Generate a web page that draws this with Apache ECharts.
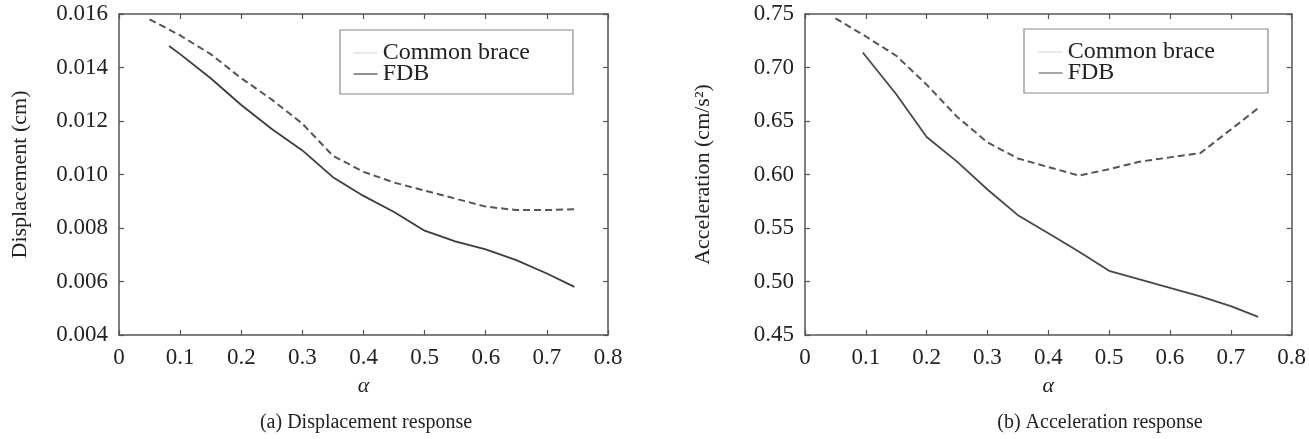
<!DOCTYPE html>
<html>
<head>
<meta charset="utf-8">
<script src="https://cdn.jsdelivr.net/npm/echarts@6/dist/echarts.min.js"></script>
<style>
  html, body { margin: 0; padding: 0; background: #fff; }
  #chart { width: 1309px; height: 439px; }
</style>
</head>
<body>
<div id="chart"></div>
<script>
// Damping-ratio values (alpha) and the responses of the two brace systems
const seriesNames = ['Common brace', 'FDB'];

const alphaCommon = [0.05, 0.1, 0.15, 0.2, 0.25, 0.3, 0.35, 0.4, 0.45, 0.5, 0.55, 0.6, 0.65, 0.7, 0.745];
const dispCommon = [0.0158, 0.0152, 0.0145, 0.0136, 0.0128, 0.0119, 0.0107, 0.0101, 0.0097, 0.0094, 0.0091, 0.0088, 0.00867, 0.00867, 0.0087];
const alphaFdbDisp = [0.082, 0.1, 0.15, 0.2, 0.25, 0.3, 0.35, 0.4, 0.45, 0.5, 0.55, 0.6, 0.65, 0.7, 0.745];
const dispFdb = [0.0148, 0.0145, 0.0136, 0.0126, 0.0117, 0.0109, 0.0099, 0.0092, 0.0086, 0.0079, 0.0075, 0.0072, 0.0068, 0.0063, 0.0058];

const accCommon = [0.746, 0.729, 0.711, 0.684, 0.654, 0.630, 0.615, 0.607, 0.599, 0.605, 0.612, 0.616, 0.620, 0.642, 0.662];
const alphaFdbAcc = [0.095, 0.15, 0.2, 0.25, 0.3, 0.35, 0.4, 0.45, 0.5, 0.55, 0.6, 0.65, 0.7, 0.745];
const accFdb = [0.714, 0.675, 0.635, 0.612, 0.586, 0.562, 0.545, 0.528, 0.510, 0.502, 0.494, 0.486, 0.477, 0.467];

const xTickLabels = ['0', '0.1', '0.2', '0.3', '0.4', '0.5', '0.6', '0.7', '0.8'];
const dispTickLabels = ['0.004', '0.006', '0.008', '0.010', '0.012', '0.014', '0.016'];
const accTickLabels = ['0.45', '0.50', '0.55', '0.60', '0.65', '0.70', '0.75'];

const panelCaptions = ['(a) Displacement response', '(b) Acceleration response'];
const axisTitles = { x: 'α', disp: 'Displacement (cm)', acc: 'Acceleration (cm/s²)' };

const FONT = 'Liberation Serif, Times New Roman, serif';
const TEXT = '#222';
const FRAME = '#555';

function zip(xs, ys) { return xs.map((x, i) => [x, ys[i]]); }

function frameAxis(extra) {
  return Object.assign({
    axisLine: { show: true, onZero: false, lineStyle: { color: FRAME, width: 1.5 } },
    axisTick: { show: true, inside: true, length: 5, lineStyle: { color: FRAME, width: 1.2 } },
    splitLine: { show: false }
  }, extra);
}

function xAxes(grid) {
  const base = { type: 'value', gridIndex: grid, min: 0, max: 0.8, interval: 0.1 };
  return [
    frameAxis(Object.assign({}, base, {
      position: 'bottom',
      name: axisTitles.x, nameLocation: 'middle', nameGap: 40,
      nameTextStyle: { fontFamily: FONT, fontSize: 22, fontStyle: 'italic', color: TEXT },
      axisLabel: { margin: 11, fontFamily: FONT, fontSize: 23, color: TEXT,
        formatter: (v) => xTickLabels[Math.round(v * 10)] }
    })),
    frameAxis(Object.assign({}, base, { position: 'top', axisLabel: { show: false } }))
  ];
}

function yAxes(grid, min, max, step, labels, title, gap) {
  const base = { type: 'value', gridIndex: grid, min: min, max: max, interval: step };
  return [
    frameAxis(Object.assign({}, base, {
      position: 'left',
      name: title, nameLocation: 'middle', nameGap: gap,
      nameTextStyle: { fontFamily: FONT, fontSize: 22, color: TEXT },
      axisLabel: { margin: 11, fontFamily: FONT, fontSize: 23, color: TEXT,
        formatter: (v) => labels[Math.round((v - min) / step)] }
    })),
    frameAxis(Object.assign({}, base, { position: 'right', axisLabel: { show: false } }))
  ];
}

function lineSeries(name, data, xi, yi, dashed, color) {
  return {
    name: name, type: 'line', xAxisIndex: xi, yAxisIndex: yi,
    data: data, symbol: 'none', smooth: false, silent: true,
    lineStyle: { color: color, width: dashed ? 2 : 1.8, type: dashed ? [7, 4] : 'solid' },
    itemStyle: { color: color }
  };
}

function legend(left, top, pad, fdbColor) {
  return {
    orient: 'vertical', left: left, top: top, padding: pad,
    backgroundColor: '#fff', borderColor: '#8a8a8a', borderWidth: 1.2,
    itemWidth: 24, itemHeight: 14, itemGap: -3,
    itemStyle: { opacity: 0 },
    selectedMode: false,
    textStyle: { fontFamily: FONT, fontSize: 24, color: TEXT },
    data: [
      { name: seriesNames[0], lineStyle: { color: '#aaa', width: 1, type: 'dotted' } },
      { name: seriesNames[1], lineStyle: { color: fdbColor, width: 1.3, type: 'solid' } }
    ]
  };
}

const chart = echarts.init(document.getElementById('chart'), null, { renderer: 'canvas' });

chart.setOption({
  animation: false,
  backgroundColor: '#fff',
  grid: [
    { left: 119, top: 14, width: 489, height: 321 },
    { left: 805, top: 14, width: 487, height: 321 }
  ],
  xAxis: xAxes(0).concat(xAxes(1)),
  yAxis: yAxes(0, 0.004, 0.016, 0.002, dispTickLabels, axisTitles.disp, 88)
    .concat(yAxes(1, 0.45, 0.75, 0.05, accTickLabels, axisTitles.acc, 91)),
  legend: [
    legend(340, 30, [11, 43, 8, 13], '#555'),
    legend(1024, 29, [11, 53, 8, 14], '#777')
  ],
  series: [
    lineSeries(seriesNames[0], zip(alphaCommon, dispCommon), 0, 0, true, '#555'),
    lineSeries(seriesNames[1], zip(alphaFdbDisp, dispFdb), 0, 0, false, '#3c3c3c'),
    lineSeries(seriesNames[0], zip(alphaCommon, accCommon), 2, 2, true, '#555'),
    lineSeries(seriesNames[1], zip(alphaFdbAcc, accFdb), 2, 2, false, '#474747')
  ],
  graphic: [
    { type: 'text', x: 366, y: 423, silent: true,
      style: { text: panelCaptions[0], font: '20px ' + FONT, fill: TEXT, align: 'center', verticalAlign: 'middle' } },
    { type: 'text', x: 1100, y: 423, silent: true,
      style: { text: panelCaptions[1], font: '20px ' + FONT, fill: TEXT, align: 'center', verticalAlign: 'middle' } }
  ]
});
</script>
</body>
</html>
